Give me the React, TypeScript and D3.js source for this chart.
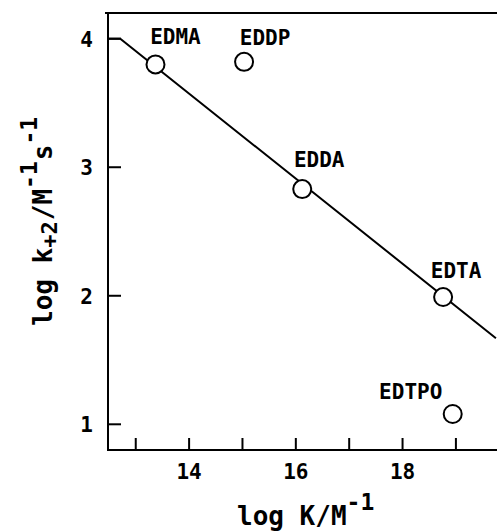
import React from "react";
import * as d3 from "d3";

const compounds = ["EDMA", "EDDP", "EDDA", "EDTA", "EDTPO"];
const logK = [13.37, 15.03, 16.12, 18.76, 18.94];
const logK2 = [3.8, 3.82, 2.83, 1.99, 1.08];

const fitX = [12.48, 12.71, 19.75];
const fitY = [4.0, 4.0, 1.67];

const xTicks = [13, 14, 15, 16, 17, 18, 19];
const xTickLabels = [14, 16, 18];
const yTicks = [1, 2, 3, 4];

// label placement (layout, px offsets from each point)
const labelDx = [20, 21, 17, 13, -42];
const labelDy = [-20, -17, -22, -19, -15];

const W = 497;
const H = 532;
const FONT = "'DejaVu Sans Mono', monospace";

export default function App() {
  const x = d3.scaleLinear().domain([12.48, 19.77]).range([108, 497]);
  const y = d3.scaleLinear().domain([0.8, 4.2]).range([450, 13]);
  const line = d3
    .line<number>()
    .x((_, i) => x(fitX[i]))
    .y((_, i) => y(fitY[i]));
  const x0 = x.range()[0];
  const y0 = y.range()[0];
  const yTop = y.range()[1];

  return (
    <svg
      width={W}
      height={H}
      style={{ position: "absolute", left: 0, top: 0, background: "#fff" }}
      fontFamily={FONT}
    >
      <rect width={W} height={H} fill="#fff" />
      {/* frame */}
      <line x1={x0 - 3} x2={W} y1={yTop} y2={yTop} stroke="#000" strokeWidth={2} />
      <line x1={x0} x2={x0} y1={yTop} y2={y0 + 1} stroke="#000" strokeWidth={2} />
      <line x1={x0} x2={W} y1={y0} y2={y0} stroke="#000" strokeWidth={2.2} />
      {/* x ticks */}
      {xTicks.map((t) => (
        <line key={"xt" + t} x1={x(t)} x2={x(t)} y1={y0} y2={y0 - 12} stroke="#000" strokeWidth={2} />
      ))}
      {xTickLabels.map((t) => (
        <text key={"xl" + t} x={x(t)} y={479} textAnchor="middle" fontSize={21} fontWeight="bold">
          {t}
        </text>
      ))}
      {/* y ticks */}
      {yTicks.map((t) => (
        <g key={"yt" + t}>
          <line x1={x0} x2={x0 + 13} y1={y(t)} y2={y(t)} stroke="#000" strokeWidth={2} />
          <text x={93} y={y(t) + 8} textAnchor="end" fontSize={21} fontWeight="bold">
            {t}
          </text>
        </g>
      ))}
      {/* fit line */}
      <path d={line(fitX) || ""} fill="none" stroke="#000" strokeWidth={2} />
      {/* points */}
      {compounds.map((c, i) => (
        <g key={c}>
          <circle cx={x(logK[i])} cy={y(logK2[i])} r={9} fill="#fff" stroke="#000" strokeWidth={2} />
          <text
            x={x(logK[i]) + labelDx[i]}
            y={y(logK2[i]) + labelDy[i]}
            textAnchor="middle"
            fontSize={21}
            fontWeight="bold"
          >
            {c}
          </text>
        </g>
      ))}
      {/* x axis title */}
      <text x={237} y={525} fontSize={26} fontWeight="bold">
        log K/M
        <tspan dy={-15} fontSize={23}>-1</tspan>
      </text>
      {/* y axis title */}
      <text transform="translate(52,326) rotate(-90)" fontSize={26} fontWeight="bold">
        log k
        <tspan dy={5} fontSize={22}>+2</tspan>
        <tspan dy={-5} dx={1}>/M</tspan>
        <tspan dy={-15} fontSize={23}>-1</tspan>
        <tspan dy={15} dx={1}>s</tspan>
        <tspan dy={-15} fontSize={23}>-1</tspan>
      </text>
    </svg>
  );
}
